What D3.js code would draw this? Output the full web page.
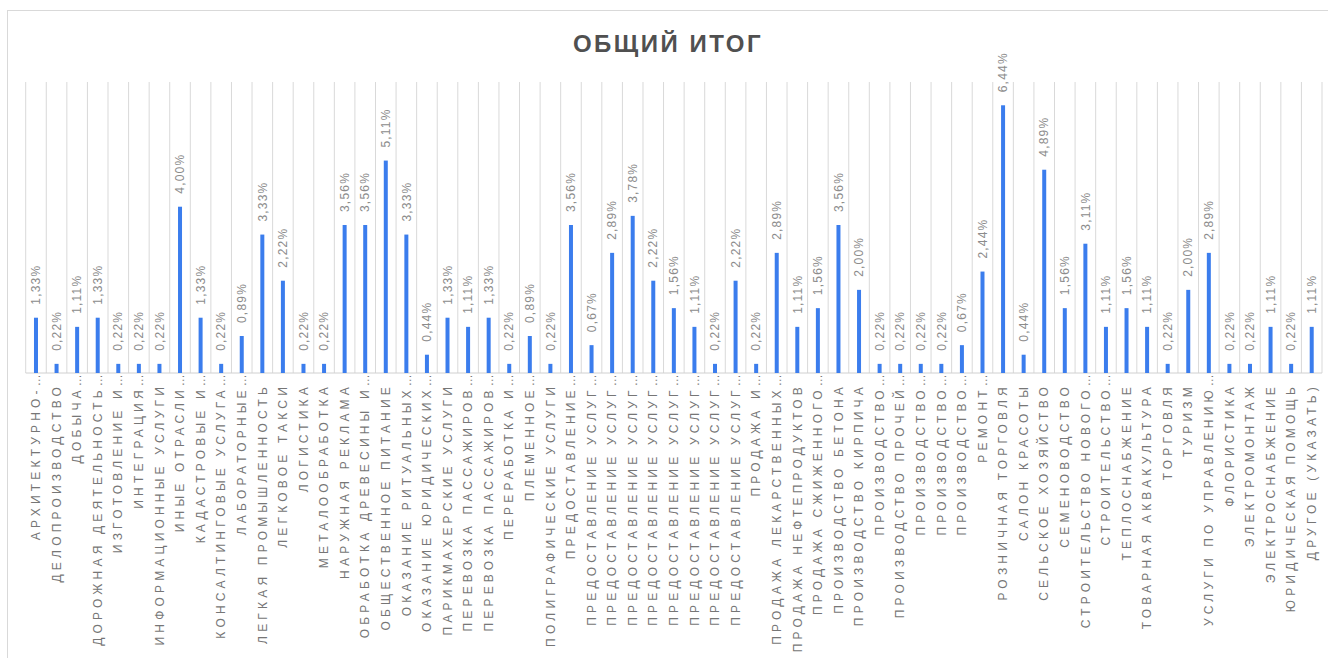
<!DOCTYPE html>
<html>
<head>
<meta charset="utf-8">
<script src="https://cdn.jsdelivr.net/npm/d3@7"></script>
<style>
  body { margin: 0; background: #fff; }
  svg { display: block; font-family: "Liberation Sans", Arial, sans-serif; }
</style>
</head>
<body>
<div id="frame"></div>
<script>
'use strict'

// категории (обрезанные подписи заканчиваются на "…")
var categories = [
  "Архитектурно-…", "Делопроизводство", "Добыча…", "Дорожная деятельность…",
  "Изготовление и…", "Интеграция…", "Информационные услуги", "Иные отрасли…",
  "Кадастровые и…", "Консалтинговые услуга…", "Лабораторные…", "Легкая промышленность",
  "Легковое такси", "Логистика", "Металообработка", "Наружная реклама",
  "Обработка древесины и…", "Общественное питание", "Оказание ритуальных…", "Оказание юридических…",
  "Парикмахерские услуги", "Перевозка пассажиров…", "Перевозка пассажиров…", "Переработка и…",
  "Племенное…", "Полиграфические услуги", "Предоставление…", "Предоставление услуг…",
  "Предоставление услуг…", "Предоставление услуг…", "Предоставление услуг…", "Предоставление услуг…",
  "Предоставление услуг…", "Предоставление услуг…", "Предоставление услуг…", "Продажа и…",
  "Продажа лекарственных…", "Продажа нефтепродуктов", "Продажа сжиженного…", "Производство бетона",
  "Производство кирпича", "Производство…", "Производство прочей…", "Производство…",
  "Производство…", "Производство…", "Ремонт…", "Розничная торговля",
  "Салон красоты", "Сельское хозяйство", "Семеноводство", "Строительство нового…",
  "Строительство…", "Теплоснабжение", "Товарная аквакультура", "Торговля",
  "Туризм", "Услуги по управлению…", "Флористика", "Электромонтаж",
  "Электроснабжение", "Юридическая помощь", "Другое (указать)"
]

// доля, %
var values = [
  1.33, 0.22, 1.11, 1.33, 0.22, 0.22, 0.22, 4.00,
  1.33, 0.22, 0.89, 3.33, 2.22, 0.22, 0.22, 3.56,
  3.56, 5.11, 3.33, 0.44, 1.33, 1.11, 1.33, 0.22,
  0.89, 0.22, 3.56, 0.67, 2.89, 3.78, 2.22, 1.56,
  1.11, 0.22, 2.22, 0.22, 2.89, 1.11, 1.56, 3.56,
  2.00, 0.22, 0.22, 0.22, 0.22, 0.67, 2.44, 6.44,
  0.44, 4.89, 1.56, 3.11, 1.11, 1.56, 1.11, 0.22,
  2.00, 2.89, 0.22, 0.22, 1.11, 0.22, 1.11
]

var yDomain = [0, 7]
var title = "Общий итог"

var W = 1328, H = 658
var plot = { left: 25.7, right: 1322, top: 82, bottom: 373 }

var svg = d3.select("#frame")
  .append("svg")
  .attr("width", W)
  .attr("height", H)

// рамка диаграммы
svg.append("rect")
  .attr("x", 7.5).attr("y", 10.5)
  .attr("width", W + 20).attr("height", H + 20)
  .attr("fill", "none")
  .attr("stroke", "#d9d9d9")

svg.append("text")
  .attr("x", 668)
  .attr("y", 52)
  .attr("text-anchor", "middle")
  .style("font-size", "24px")
  .style("font-weight", "bold")
  .style("letter-spacing", "2.5px")
  .style("fill", "#505050")
  .text(title.toUpperCase())

var x = d3.scaleBand()
  .domain(d3.range(categories.length))
  .range([plot.left, plot.right])
  .padding(0)

var y = d3.scaleLinear()
  .domain(yDomain)
  .range([plot.bottom, plot.top])

// вертикальные линии сетки по границам категорий
var edges = d3.range(categories.length + 1)
svg.append("g").attr("class", "grid")
  .selectAll("line")
  .data(edges)
  .enter().append("line")
  .attr("x1", d => plot.left + d * x.step())
  .attr("x2", d => plot.left + d * x.step())
  .attr("y1", plot.top)
  .attr("y2", plot.bottom)
  .attr("stroke", "#d9d9d9")
  .attr("stroke-width", 1)

svg.append("line")
  .attr("x1", plot.left).attr("x2", plot.right)
  .attr("y1", plot.bottom).attr("y2", plot.bottom)
  .attr("stroke", "#d0d0d0")

var barW = 4
svg.append("g").attr("class", "bars")
  .selectAll("rect")
  .data(values)
  .enter().append("rect")
  .attr("x", (d, i) => x(i) + x.bandwidth() / 2 - barW / 2)
  .attr("y", d => y(d))
  .attr("width", barW)
  .attr("height", d => y(0) - y(d))
  .attr("fill", "#3b7ded")

// подписи значений
svg.append("g").attr("class", "labels")
  .selectAll("text")
  .data(values)
  .enter().append("text")
  .attr("transform", (d, i) => {
    var cx = x(i) + x.bandwidth() / 2
    return "translate(" + cx + "," + (y(d) - 13) + ") rotate(-90)"
  })
  .attr("dy", "0.35em")
  .style("font-size", "12px")
  .style("letter-spacing", "1.2px")
  .style("fill", "#8c8c8c")
  .text(d => d.toFixed(2).replace(".", ",") + "%")

// подписи категорий
svg.append("g").attr("class", "cats")
  .selectAll("text")
  .data(categories)
  .enter().append("text")
  .attr("transform", (d, i) => {
    var cx = x(i) + x.bandwidth() / 2
    var top = d.endsWith("…") ? 370 : 383
    return "translate(" + cx + "," + top + ") rotate(-90)"
  })
  .attr("dy", "0.35em")
  .attr("text-anchor", "end")
  .style("font-size", "12px")
  .style("letter-spacing", "4.2px")
  .style("fill", "#767676")
  .text(d => d.toUpperCase())
</script>
</body>
</html>
